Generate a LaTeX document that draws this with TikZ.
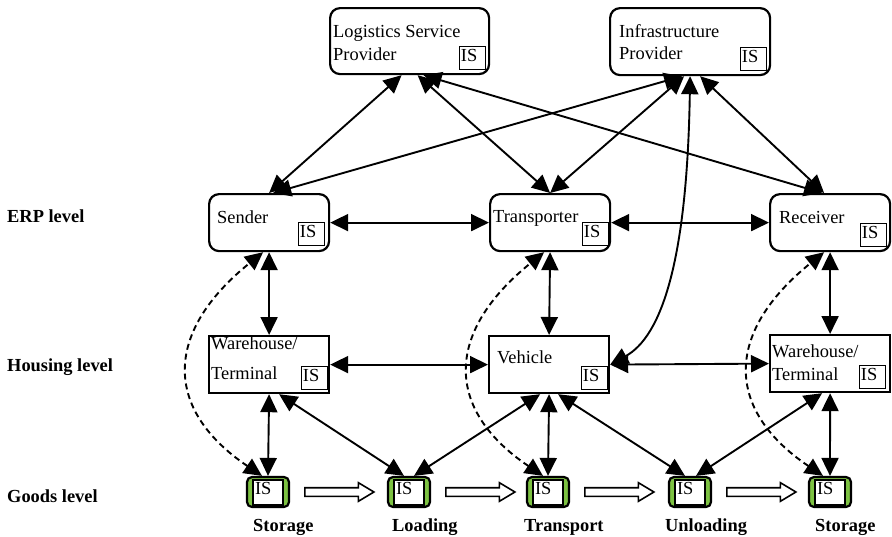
\documentclass[tikz,border=0pt]{standalone}
\usepackage{fontspec}
\setmainfont{Liberation Serif}
\usetikzlibrary{arrows.meta,shapes.arrows,calc}
\definecolor{goodsgreen}{HTML}{7DC242}
\begin{document}
\begin{tikzpicture}[x=1pt,y=-1pt,
  every node/.style={font=\fontsize{18.4}{23}\selectfont},
  txt/.style={inner sep=0pt, anchor=base west},
  lvl/.style={txt, font=\fontsize{18.4}{23}\selectfont\bfseries},
  partner/.style={draw, fill=white, line width=2.2pt, rounded corners=10pt, inner sep=0pt,
    minimum width=120pt, minimum height=57pt, anchor=north west},
  unit/.style={draw, fill=white, line width=2.2pt, inner sep=0pt,
    minimum width=120pt, minimum height=57pt, anchor=north west},
  isbox/.style={draw, line width=1.6pt, inner xsep=1.5pt, inner ysep=0pt, text width=23pt,
    align=left, text height=12pt, text depth=5pt, minimum height=23pt, anchor=south east},
  goods/.style={draw, line width=2.2pt, fill=goodsgreen, rounded corners=5pt,
    minimum width=42pt, minimum height=30pt, inner sep=0pt},
  goodsis/.style={draw, line width=1.1pt, fill=white, inner xsep=2pt, inner ysep=2pt,
    text width=26pt, align=left, text height=12pt, text depth=9pt},
  flow/.style={draw, line width=1.6pt, fill=white, single arrow, single arrow head extend=5pt,
    single arrow tip angle=62, minimum height=69pt, inner sep=3.5pt, anchor=tail},
  link/.style={line width=1.9pt, {Triangle[length=18pt,width=17pt]}-{Triangle[length=18pt,width=17pt]}},
  infolink/.style={link, dash pattern=on 6pt off 4pt},
]
\useasboundingbox (0,0) rectangle (892,536);

% level captions
\node[lvl] (lerp) at (7,222) {ERP level};
\node[lvl] (lhou) at (7,371) {Housing level};
\node[lvl] (lgoo) at (7,502) {Goods level};

% partners on top
\node[partner, minimum width=159pt, minimum height=66pt] (lsp) at (329,7) {};
\node[txt] (lspa) at (333,37) {Logistics Service};
\node[txt] (lspb) at (333,60) {Provider};
\node[isbox] (lspis) at ([shift={(-4,-5)}]lsp.south east) {IS};

\node[partner, minimum width=160pt, minimum height=67pt] (ip) at (609,7) {};
\node[txt] (ipa) at (619,37) {Infrastructure};
\node[txt] (ipb) at (619,59) {Provider};
\node[isbox] (ipis) at ([shift={(-4,-5)}]ip.south east) {IS};

% ERP level
\node[partner] (snd) at (208,193) {};
\node[txt] (sndt) at (217,223) {Sender};
\node[isbox] (sndis) at ([shift={(-5,-6)}]snd.south east) {IS};

\node[partner] (trn) at (489,193) {};
\node[txt] (trnt) at (493,222) {Transporter};
\node[isbox] (trnis) at ([shift={(-2,-6)}]trn.south east) {IS};

\node[partner] (rcv) at (769,193) {};
\node[txt] (rcvt) at (779,223) {Receiver};
\node[isbox] (rcvis) at ([shift={(-4,-5)}]rcv.south east) {IS};

% housing level
\node[unit] (whl) at (208,335) {};
\node[txt] (whla) at (211,349) {Warehouse/};
\node[txt] (whlb) at (211,379) {Terminal};
\node[isbox] (whlis) at ([shift={(-2,-4)}]whl.south east) {IS};

\node[unit] (veh) at (488,335) {};
\node[txt] (veht) at (497,363) {Vehicle};
\node[isbox] (vehis) at ([shift={(-2,-4)}]veh.south east) {IS};

\node[unit] (whr) at (769,334) {};
\node[txt] (whra) at (772,357) {Warehouse/};
\node[txt] (whrb) at (772,380) {Terminal};
\node[isbox] (whris) at ([shift={(-5,-4)}]whr.south east) {IS};

% goods level
\foreach \i/\x in {1/268,2/409,3/548,4/690,5/830}{
  \node[goods] (g\i) at (\x,492) {};
  \node[goodsis] (g\i is) at (\x,492.5) {IS};
}
\foreach \a in {1,2,3,4}{
  \node[flow] (f\a) at ([xshift=14pt]g\a.east) {};
}

% process step captions
\node[lvl] (s1) at (253,531) {Storage};
\node[lvl] (s2) at (392,531) {Loading};
\node[lvl] (s3) at (524,531) {Transport};
\node[lvl] (s4) at (665,531) {Unloading};
\node[lvl] (s5) at (815,531) {Storage};

% partners to ERP level
\draw[link] ([xshift=-8pt]lsp.south) -- (snd.north);
\draw[link] ([xshift=8pt]lsp.south) -- (trn.north);
\draw[link] ([xshift=14pt]lsp.south) -- ([xshift=-8pt]rcv.north);
\draw[link] ([xshift=-8pt]ip.south) -- ([xshift=4pt]snd.north);
\draw[link] ([xshift=-6pt]ip.south) -- (trn.north);
\draw[link] ([xshift=10pt]ip.south) -- ([xshift=-6pt]rcv.north);
\draw[link] (ip.south) .. controls +(-3,186) and +(51,-28) .. (veh.east);

% horizontal links
\draw[link] (snd.east) -- (trn.west);
\draw[link] (trn.east) -- (rcv.west);
\draw[link] (whl.east) -- (veh.west);
\draw[link] (veh.east) -- (whr.west);

% vertical links
\draw[link] (snd.south) -- (whl.north);
\draw[link] (trn.south) -- (veh.north);
\draw[link] (rcv.south) -- (whr.north);

% housing to goods
\draw[link] (whl.south) -- (g1.north);
\draw[link] ([xshift=10pt]whl.south) -- ([xshift=-5pt]g2.north);
\draw[link] ([xshift=-9pt]veh.south) -- ([xshift=5pt]g2.north);
\draw[link] (veh.south) -- (g3.north);
\draw[link] ([xshift=9pt]veh.south) -- ([xshift=-5pt]g4.north);
\draw[link] ([xshift=-8pt]whr.south) -- ([xshift=6pt]g4.north);
\draw[link] (whr.south) -- (g5.north);

% direct goods to ERP information flow
\draw[infolink] ([xshift=-6pt]g1.north) .. controls +(-99,-67) and +(-99,80) .. ([xshift=-6pt]snd.south);
\draw[infolink] ([xshift=-5pt]g3.north) .. controls +(-99,-67) and +(-99,80) .. ([xshift=-6pt]trn.south);
\draw[infolink] ([xshift=-7pt]g5.north) .. controls +(-99,-67) and +(-99,80) .. ([xshift=-6pt]rcv.south);
\end{tikzpicture}
\end{document}
